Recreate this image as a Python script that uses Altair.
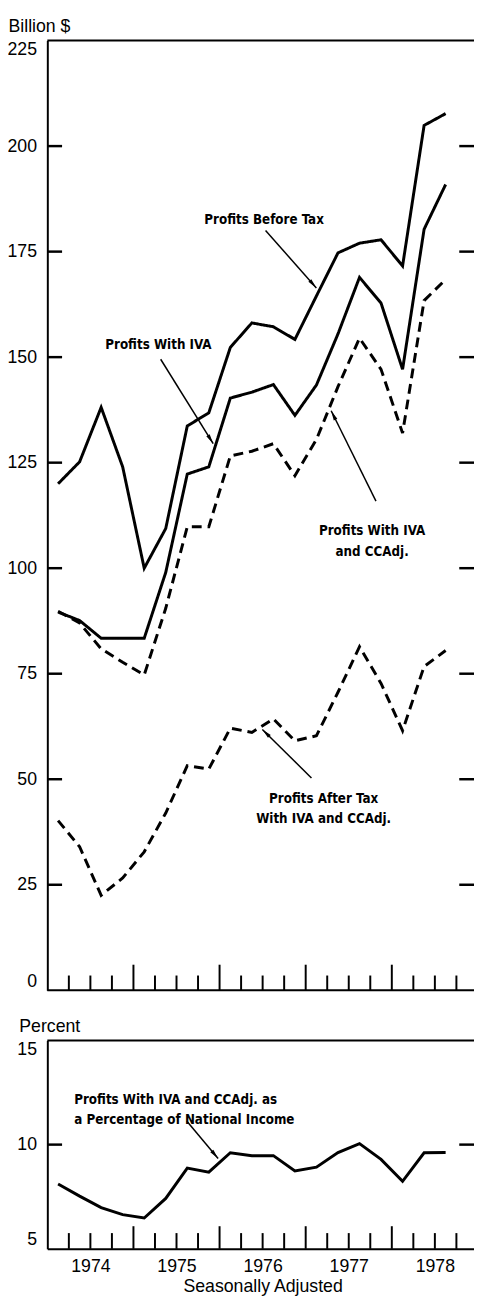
import math
import altair as alt
import pandas as pd

# ---------------- data ----------------
quarters = ["1974Q1", "1974Q2", "1974Q3", "1974Q4",
            "1975Q1", "1975Q2", "1975Q3", "1975Q4",
            "1976Q1", "1976Q2", "1976Q3", "1976Q4",
            "1977Q1", "1977Q2", "1977Q3", "1977Q4",
            "1978Q1", "1978Q2", "1978Q3"]

before_tax = [120.0, 125.2, 138.1, 124.0, 100.0, 109.4, 133.7, 136.8, 152.3, 158.1,
              157.2, 154.2, 164.5, 174.7, 177.0, 177.8, 171.6, 204.9, 207.7]
with_iva = [89.6, 87.6, 83.4, 83.4, 83.4, 99.0, 122.3, 124.0, 140.3, 141.7,
            143.5, 136.2, 143.4, 155.5, 168.9, 162.8, 147.1, 180.3, 190.9]
with_iva_cca = [89.8, 87.0, 80.9, 77.7, 74.7, 90.5, 109.8, 109.8, 126.6, 127.7,
                129.5, 121.9, 130.5, 143.0, 154.5, 147.1, 132.0, 163.4, 168.4]
after_tax = [40.2, 34.0, 22.5, 26.6, 32.8, 42.0, 53.2, 52.4, 62.1, 61.1,
             64.3, 59.1, 60.3, 70.6, 81.4, 72.7, 61.5, 76.7, 80.5]
pct_national_income = [8.11, 7.53, 6.98, 6.64, 6.48, 7.42, 8.87, 8.68, 9.61, 9.47,
                       9.47, 8.74, 8.92, 9.62, 10.05, 9.29, 8.24, 9.61, 9.62]

year_labels = [1974, 1975, 1976, 1977, 1978]
top_ticks = [25, 50, 75, 100, 125, 150, 175, 200]
top_labels = [0, 25, 50, 75, 100, 125, 150, 175, 200, 225]
bot_ticks = [10]
bot_labels = [5, 10, 15]


def qpos(q):
    y, n = q.split("Q")
    return int(y) + (int(n) - 0.5) / 4.0


xs = [qpos(q) for q in quarters]

series_defs = [
    ("Profits Before Tax", before_tax, "solid"),
    ("Profits With IVA", with_iva, "solid"),
    ("Profits With IVA and CCAdj.", with_iva_cca, "dashed"),
    ("Profits After Tax With IVA and CCAdj.", after_tax, "dashed"),
]
rows = []
for name, vals, style in series_defs:
    for q, x, v in zip(quarters, xs, vals):
        rows.append({"quarter": q, "x": x, "value": v, "series": name, "style": style})
df_top = pd.DataFrame(rows)
df_pct = pd.DataFrame({"quarter": quarters, "x": xs, "value": pct_national_income})

# ---------------- layout / scales ----------------
W = 434            # view width (page 48 -> 482)
X_RANGE = 438      # 1974 -> 1979
TOP_H = 966        # top panel plot height
BOT_TOP, BOT_BOT = 1017, 1229
H = BOT_BOT

x_scale = alt.Scale(domain=[1974, 1979], range=[0, X_RANGE], nice=False, zero=False)
top_scale = alt.Scale(domain=[0, 225], range=[TOP_H, 0], nice=False, zero=False)
bot_scale = alt.Scale(domain=[5, 15], range=[BOT_BOT, BOT_TOP], nice=False, zero=False)

PXX = X_RANGE / 5.0
PXY_TOP = TOP_H / 225.0
PXY_BOT = (BOT_BOT - BOT_TOP) / 10.0

LABEL_FONT = "Liberation Sans"
ANN_FONT = "DejaVu Sans Condensed, Roboto, sans-serif"

x_axis = alt.Axis(values=[y + 0.5 for y in year_labels], labelExpr="format(floor(datum.value), 'd')",
                  ticks=False, tickSize=0, grid=False, domainColor="black", domainWidth=2,
                  labelFont=LABEL_FONT, labelFontSize=18, labelColor="black", labelPadding=9,
                  title="Seasonally Adjusted", titleFont=LABEL_FONT, titleFontSize=18,
                  titleFontWeight="normal", titleColor="black", titlePadding=2)

top_axis = alt.Axis(values=top_labels, orient="left", ticks=False, tickSize=0, grid=False,
                    domainColor="black", domainWidth=2, labelFlush=True,
                    labelFont=LABEL_FONT, labelFontSize=18, labelColor="black", labelPadding=11,
                    title="Billion $", titleAngle=0, titleAlign="left", titleBaseline="alphabetic",
                    titleX=-40, titleY=-9, titleFont=LABEL_FONT, titleFontSize=18,
                    titleFontWeight="normal", titleColor="black")

bot_axis = alt.Axis(values=bot_labels, orient="left", ticks=False, tickSize=0, grid=False,
                    domainColor="black", domainWidth=2, labelFlush=True,
                    labelFont=LABEL_FONT, labelFontSize=18, labelColor="black", labelPadding=11,
                    title="Percent", titleAngle=0, titleAlign="left", titleBaseline="alphabetic",
                    titleX=-29, titleY=BOT_TOP - 9, titleFont=LABEL_FONT, titleFontSize=18,
                    titleFontWeight="normal", titleColor="black")


def X(f="x"):
    return alt.X(f"{f}:Q", scale=x_scale)


top_lines = alt.Chart(df_top).mark_line(color="black", strokeWidth=3, strokeJoin="miter").encode(
    x=alt.X("x:Q", scale=x_scale, axis=x_axis),
    y=alt.Y("value:Q", scale=top_scale, axis=top_axis),
    detail="series:N",
    strokeDash=alt.StrokeDash("style:N", scale=alt.Scale(domain=["solid", "dashed"],
                                                         range=[[1, 0], [10, 6]]), legend=None),
)

bot_line = alt.Chart(df_pct).mark_line(color="black", strokeWidth=3, strokeJoin="miter").encode(
    x=X(), y=alt.Y("value:Q", scale=bot_scale, axis=bot_axis))

one = pd.DataFrame({"a": [0]})
frames = [
    alt.Chart(one).mark_rule(color="black", strokeWidth=2).encode(
        x=alt.value(0), x2=alt.value(W), y=alt.value(0)),
    alt.Chart(one).mark_rule(color="black", strokeWidth=2).encode(
        x=alt.value(0), x2=alt.value(W), y=alt.value(TOP_H)),
    alt.Chart(one).mark_rule(color="black", strokeWidth=2).encode(
        x=alt.value(0), x2=alt.value(W), y=alt.value(BOT_TOP)),
]

# inward y ticks
TL = 15


def ytick_layers(vals, scale):
    d = pd.DataFrame({"v": vals})
    return [
        alt.Chart(d).mark_rule(color="black", strokeWidth=2.5).encode(
            y=alt.Y("v:Q", scale=scale, axis=None), x=alt.value(0), x2=alt.value(TL)),
        alt.Chart(d).mark_rule(color="black", strokeWidth=2.5).encode(
            y=alt.Y("v:Q", scale=scale, axis=None), x=alt.value(W - TL), x2=alt.value(W)),
    ]


# inward x ticks (quarters short, years tall)
short_q = [y + f for y in [1974, 1975, 1976, 1977, 1978] for f in (0.25, 0.5, 0.75)]
tall_q = [1975, 1976, 1977, 1978]


def xtick_layers(base, short_len, tall_len):
    ds = pd.DataFrame({"t": short_q})
    dt = pd.DataFrame({"t": tall_q})
    return [
        alt.Chart(ds).mark_rule(color="black", strokeWidth=2).encode(
            x=X("t"), y=alt.value(base), y2=alt.value(base - short_len)),
        alt.Chart(dt).mark_rule(color="black", strokeWidth=2).encode(
            x=X("t"), y=alt.value(base), y2=alt.value(base - tall_len)),
    ]


# ---------------- annotations ----------------
ann_top = [
    ("Profits Before Tax", 1976.517, 182.4, "center"),
    ("Profits With IVA", 1975.290, 152.8, "center"),
    ("Profits With IVA\nand CCAdj.", 1977.771, 108.8, "center"),
    ("Profits After Tax\nWith IVA and CCAdj.", 1977.208, 45.4, "center"),
]
arrows_top = [
    (1976.534, 180.0, 1977.124, 166.4),
    (1975.316, 149.5, 1975.926, 129.5),
    (1977.816, 115.9, 1977.296, 137.3),
    (1977.067, 50.3, 1976.497, 61.8),
]
ann_bot = [("Profits With IVA and CCAdj. as\na Percentage of National Income", 1974.312, 12.15, "left")]
arrows_bot = [(1975.621, 11.12, 1975.983, 9.33)]


def text_layers(anns, scale):
    out = []
    for t, x, y, al in anns:
        d = pd.DataFrame({"x": [x], "y": [y], "t": [t]})
        out.append(alt.Chart(d).mark_text(font=ANN_FONT, fontWeight="bold", fontSize=13.5,
                                          align=al, baseline="middle", lineBreak="\n",
                                          lineHeight=21, color="black").encode(
            x=X(), y=alt.Y("y:Q", scale=scale, axis=None), text="t:N"))
    return out


def arrow_layers(arrs, scale, pxy):
    d = pd.DataFrame(arrs, columns=["x1", "y1", "x2", "y2"])
    heads = []
    for x1, y1, x2, y2 in arrs:
        dxs = (x2 - x1) * PXX
        dys = -(y2 - y1) * pxy
        L = math.hypot(dxs, dys)
        t = 1 - 5.0 / L
        ang = math.degrees(math.atan2(dxs, -dys)) % 360
        heads.append({"hx": x1 + (x2 - x1) * t, "hy": y1 + (y2 - y1) * t, "ang": ang})
    dh = pd.DataFrame(heads)
    return [
        alt.Chart(d).mark_rule(color="black", strokeWidth=1.5).encode(
            x=X("x1"), x2="x2:Q", y=alt.Y("y1:Q", scale=scale, axis=None), y2="y2:Q"),
        alt.Chart(dh).mark_point(shape="M0,-1L0.4,1L-0.4,1Z", filled=True, color="black",
                                 opacity=1, size=100).encode(
            x=X("hx"), y=alt.Y("hy:Q", scale=scale, axis=None),
            angle=alt.Angle("ang:Q", scale=None)),
    ]


layers = [top_lines, bot_line] + frames \
    + ytick_layers(top_ticks, top_scale) + ytick_layers(bot_ticks, bot_scale) \
    + xtick_layers(TOP_H, 15, 26) + xtick_layers(BOT_BOT, 16, 23) \
    + text_layers(ann_top, top_scale) + text_layers(ann_bot, bot_scale) \
    + arrow_layers(arrows_top, top_scale, PXY_TOP) + arrow_layers(arrows_bot, bot_scale, PXY_BOT)

chart = alt.layer(*layers).resolve_scale(y="independent").properties(
    width=W, height=H,
    autosize=alt.AutoSizeParams(type="none"),
    padding={"left": 40, "top": 22, "right": 0, "bottom": 46},
    background="white",
).configure_view(stroke=None)

chart.save("out.html", embed_options={"renderer": "svg", "actions": False})
